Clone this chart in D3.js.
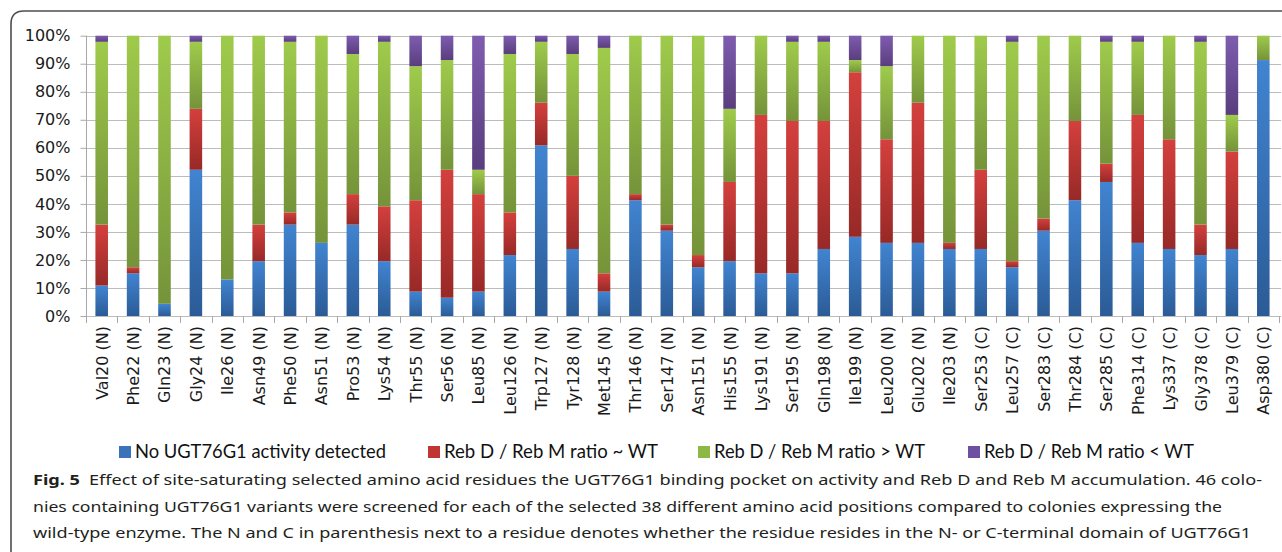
<!DOCTYPE html>
<html>
<head>
<meta charset="utf-8">
<script src="https://cdn.jsdelivr.net/npm/d3@7"></script>
<style>
  html, body { margin: 0; padding: 0; background: #fff; overflow: hidden; }
  svg { display: block; }
</style>
</head>
<body>
<svg id="chart" width="1282" height="552"></svg>
<script>
// Residues screened (46 colonies each), counts per outcome class
const residues = ["Val20 (N)","Phe22 (N)","Gln23 (N)","Gly24 (N)","Ile26 (N)","Asn49 (N)","Phe50 (N)","Asn51 (N)",
  "Pro53 (N)","Lys54 (N)","Thr55 (N)","Ser56 (N)","Leu85 (N)","Leu126 (N)","Trp127 (N)","Tyr128 (N)","Met145 (N)",
  "Thr146 (N)","Ser147 (N)","Asn151 (N)","His155 (N)","Lys191 (N)","Ser195 (N)","Gln198 (N)","Ile199 (N)","Leu200 (N)",
  "Glu202 (N)","Ile203 (N)","Ser253 (C)","Leu257 (C)","Ser283 (C)","Thr284 (C)","Ser285 (C)","Phe314 (C)","Lys337 (C)",
  "Gly378 (C)","Leu379 (C)","Asp380 (C)"];

const noActivity = [5,7,2,24,6,9,15,12,15,9,4,3,4,10,28,11,4,19,14,8,9,7,7,11,13,12,12,11,11,8,14,19,22,12,11,10,11,42];
const ratioSimilar = [10,1,0,10,0,6,2,0,5,9,15,21,16,7,7,12,3,1,1,2,13,26,25,21,27,17,23,1,13,1,2,13,3,21,18,5,16,0];
const ratioHigher = [30,38,44,11,40,31,28,34,23,27,22,18,4,26,10,20,37,26,31,36,12,13,13,13,2,12,11,34,22,36,30,14,20,12,17,30,6,4];
const ratioLower = [1,0,0,1,0,0,1,0,3,1,5,4,22,3,1,3,2,0,0,0,12,0,1,1,4,5,0,0,0,1,0,0,1,1,0,1,13,0];

const seriesKeys = ["none","similar","higher","lower"];
const seriesNames = ["No UGT76G1 activity detected","Reb D / Reb M ratio ~ WT","Reb D / Reb M ratio > WT","Reb D / Reb M ratio < WT"];
const yTicks = [0,0.1,0.2,0.3,0.4,0.5,0.6,0.7,0.8,0.9,1];

const captionLines = [
  "Effect of site-saturating selected amino acid residues the UGT76G1 binding pocket on activity and Reb D and Reb M accumulation. 46 colo-",
  "nies containing UGT76G1 variants were screened for each of the selected 38 different amino acid positions compared to colonies expressing the",
  "wild-type enzyme. The N and C in parenthesis next to a residue denotes whether the residue resides in the N- or C-terminal domain of UGT76G1"
];

// gradient stops (top, bottom) per series
const fills = {
  none:    ["#4184d1", "#2b5b96"],
  similar: ["#d4403d", "#972927"],
  higher:  ["#9fcb4b", "#75933a"],
  lower:   ["#7e5daf", "#5a3d7e"]
};
const legendSwatch = { none:"#3a73b8", similar:"#bf3633", higher:"#8db843", lower:"#6e50a0" };

const table = residues.map((r, i) => ({
  residue: r,
  none: noActivity[i], similar: ratioSimilar[i], higher: ratioHigher[i], lower: ratioLower[i]
}));

const svg = d3.select("#chart");

// frame around figure
svg.append("path")
  .attr("d", "M11,552 L11,24 Q11,11 24,11 L1282,11")
  .attr("fill", "none").attr("stroke", "#4d4d4d").attr("stroke-width", 1.6);

const defs = svg.append("defs");
seriesKeys.forEach(k => {
  const g = defs.append("linearGradient").attr("id", "grad-" + k)
    .attr("x1", 0).attr("y1", 0).attr("x2", 0).attr("y2", 1);
  g.append("stop").attr("offset", "0%").attr("stop-color", fills[k][0]);
  g.append("stop").attr("offset", "100%").attr("stop-color", fills[k][1]);
});

const plotLeft = 86, plotRight = 1279, plotTop = 35.7, plotBottom = 316;

const x = d3.scaleBand().domain(residues).range([plotLeft, plotRight]).paddingInner(0.6).paddingOuter(0.3);
const y = d3.scaleLinear().domain([0, 1]).range([plotBottom, plotTop]);

// horizontal gridlines
svg.append("g").selectAll("line").data(yTicks).join("line")
  .attr("x1", plotLeft).attr("x2", 1281)
  .attr("y1", d => Math.round(y(d)) + 0.5).attr("y2", d => Math.round(y(d)) + 0.5)
  .attr("stroke", "#bcbcbc").attr("stroke-width", 1.2);

// y axis
const yAxis = svg.append("g").attr("transform", `translate(${plotLeft + 0.5},0)`)
  .call(d3.axisLeft(y).tickValues(yTicks).tickFormat(d3.format(".0%")).tickSize(6).tickPadding(10));
yAxis.select(".domain").attr("stroke", "#a8a8a8").attr("d", `M0,${plotBottom + 7}V${plotTop}`);
yAxis.selectAll(".tick line").attr("stroke", "#a8a8a8");
yAxis.selectAll("text").attr("font-family", "'DejaVu Sans', Verdana, sans-serif")
  .attr("font-size", 16).attr("fill", "#1a1a1a");

// category boundary ticks along the baseline
const step = x.step();
const edges = residues.map(r => x(r) - (step - x.bandwidth()) / 2).concat([plotRight]);
svg.append("g").selectAll("line").data(edges).join("line")
  .attr("x1", d => Math.round(d) + 0.5).attr("x2", d => Math.round(d) + 0.5)
  .attr("y1", plotBottom).attr("y2", plotBottom + 7)
  .attr("stroke", "#a8a8a8").attr("stroke-width", 1);

// stacked bars
const stack = d3.stack().keys(seriesKeys).offset(d3.stackOffsetExpand);
const layers = stack(table);

svg.append("g").selectAll("g").data(layers).join("g")
  .attr("fill", d => `url(#grad-${d.key})`)
  .selectAll("rect").data(d => d.filter(s => s[1] - s[0] > 0)).join("rect")
  .attr("x", d => x(d.data.residue))
  .attr("width", x.bandwidth())
  .attr("y", d => y(d[1]))
  .attr("height", d => y(d[0]) - y(d[1]));

// category labels, rotated
const labels = svg.append("g");
labels.selectAll("text").data(residues).join("text")
  .attr("font-family", "'DejaVu Sans', Verdana, sans-serif")
  .attr("font-size", 16).attr("fill", "#1a1a1a")
  .attr("text-anchor", "end")
  .attr("transform", d => `translate(${x(d) + x.bandwidth() / 2 + 6},${plotBottom + 10}) rotate(-90)`)
  .text(d => d);

// legend
const legendX = [119, 428, 698, 968];
const legendW = [251, 214, 211, 210];
const legend = svg.append("g");
seriesKeys.forEach((k, i) => {
  legend.append("rect").attr("x", legendX[i]).attr("y", 446).attr("width", 12).attr("height", 12)
    .attr("fill", legendSwatch[k]);
  legend.append("text").attr("x", legendX[i] + 16).attr("y", 458)
    .attr("font-family", "Lato, 'Open Sans', sans-serif").attr("font-size", 19).attr("fill", "#111")
    .attr("textLength", legendW[i]).attr("lengthAdjust", "spacingAndGlyphs")
    .text(seriesNames[i]);
});

// caption
const capFont = "'Noto Sans', 'Liberation Sans', sans-serif";
const capEnds = [1262, 1222, 1251];
const capY = [485, 512, 538];
captionLines.forEach((line, i) => {
  const t = svg.append("text").attr("x", 33).attr("y", capY[i])
    .attr("font-family", capFont).attr("font-size", 15).attr("fill", "#231f20")
    .attr("textLength", capEnds[i] - 33).attr("lengthAdjust", "spacingAndGlyphs");
  if (i === 0) {
    t.append("tspan").attr("font-weight", "bold").text("Fig. 5");
    t.append("tspan").text("\u2002" + line);
  } else {
    t.text(line);
  }
});
</script>
</body>
</html>
